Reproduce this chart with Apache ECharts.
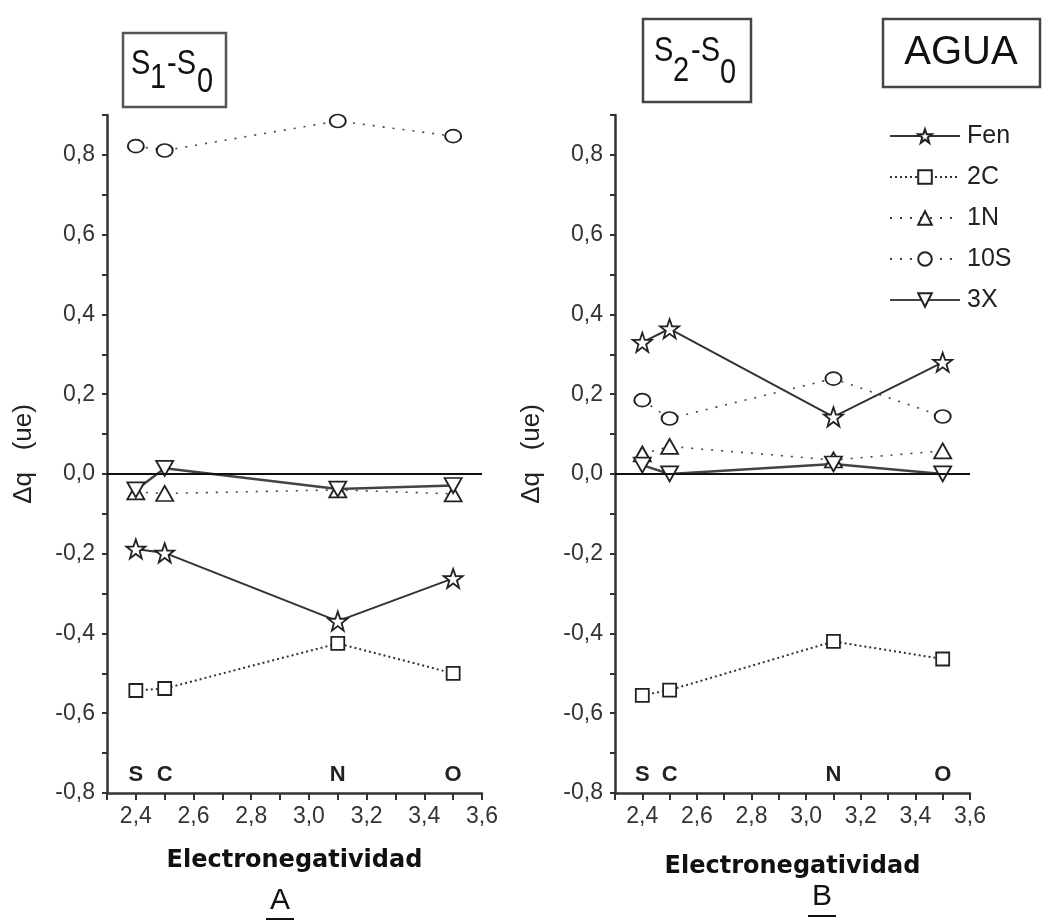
<!DOCTYPE html>
<html><head><meta charset="utf-8">
<script src="https://cdn.jsdelivr.net/npm/echarts@6/dist/echarts.min.js"></script>
<style>html,body{margin:0;padding:0;background:#fff}#c{width:1053px;height:923px}</style>
</head><body><div id="c"></div><script>
// ---- data ----
const xVals = [2.4, 2.5, 3.1, 3.5];
const elementLabels = ['S', 'C', 'N', 'O'];
const elementLabelY = -0.755;
const seriesNames = ['Fen', '2C', '1N', '10S', '3X'];
// Panel A: S1-S0
const fenA = [-0.188, -0.198, -0.369, -0.262];
const c2A  = [-0.543, -0.538, -0.425, -0.50];
const n1A  = [-0.045, -0.049, -0.04, -0.05];
const s10A = [0.822, 0.811, 0.885, 0.847];
const x3A  = [-0.04, 0.014, -0.038, -0.029];
// Panel B: S2-S0
const fenB = [0.33, 0.364, 0.143, 0.28];
const c2B  = [-0.555, -0.542, -0.42, -0.464];
const n1B  = [0.05, 0.069, 0.035, 0.058];
const s10B = [0.185, 0.139, 0.239, 0.144];
const x3B  = [0.022, 0.0, 0.025, 0.0];

// ---- styles ----
const FONT = 'Liberation Sans';
const STAR = 'path://M12,0 L14.9,8.1 L23.4,8.1 L16.6,13.2 L19.1,21.6 L12,16.5 L4.9,21.6 L7.4,13.2 L0.6,8.1 L9.1,8.1 Z';
const DOWN = 'path://M0,0 L20,0 L10,18 Z';
const UP = 'path://M10,0 L20,18 L0,18 Z';
const styleMap = {
  'Fen': {symbol: STAR, size: 19, line: {type: 'solid', width: 2, color: '#333'}},
  '2C':  {symbol: 'rect', size: 13, line: {type: [2, 3], width: 2, color: '#333'}},
  '1N':  {symbol: UP, size: [17, 15], line: {type: [2, 8], width: 1.6, color: '#444'}},
  '10S': {symbol: 'circle', size: [16, 13], line: {type: [2, 8], width: 1.6, color: '#444'}},
  '3X':  {symbol: DOWN, size: [17, 15], line: {type: 'solid', width: 2.5, color: '#444'}}
};

function mk(name, vals, gi) {
  const st = styleMap[name];
  return {
    name: name, type: 'line', xAxisIndex: gi, yAxisIndex: gi,
    data: xVals.map((x, i) => [x, vals[i]]),
    symbol: st.symbol, symbolSize: st.size, symbolKeepAspect: false,
    showAllSymbol: true,
    lineStyle: st.line,
    itemStyle: {color: '#fff', borderColor: '#222', borderWidth: 1.8},
    z: 3, animation: false
  };
}

const series = [];
[[fenA, c2A, n1A, s10A, x3A], [fenB, c2B, n1B, s10B, x3B]].forEach((arrs, gi) => {
  arrs.forEach((vals, k) => series.push(mk(seriesNames[k], vals, gi)));
  series.push({
    type: 'line', xAxisIndex: gi, yAxisIndex: gi, data: [], silent: true,
    markLine: {silent: true, symbol: 'none', label: {show: false},
      lineStyle: {type: 'solid', color: '#111', width: 2}, data: [{yAxis: 0}]},
    animation: false
  });
  series.push({
    type: 'scatter', xAxisIndex: gi, yAxisIndex: gi, silent: true,
    data: xVals.map((x, i) => [x, elementLabelY, elementLabels[i]]),
    symbolSize: 1, itemStyle: {opacity: 0},
    label: {show: true, position: 'inside', formatter: p => p.data[2],
      fontFamily: FONT, fontWeight: 'bold', fontSize: 22, color: '#222', opacity: 1},
    animation: false
  });
});

function fmt(v) {
  const k = Math.round(v * 10);
  if (k % 2 !== 0) return '';
  return (k / 10).toFixed(1).replace('.', ',');
}

function xAx(gi, gap) {
  return {
    type: 'value', gridIndex: gi, min: 2.3, max: 3.6, interval: 0.1,
    name: 'Electronegatividad', nameLocation: 'middle', nameGap: gap,
    nameTextStyle: {fontFamily: 'DejaVu Sans', fontWeight: 'bold', fontSize: 24, color: '#111'},
    axisLine: {onZero: false, lineStyle: {color: '#333', width: 2.5}},
    axisTick: {inside: false, length: 7, lineStyle: {color: '#333', width: 2}},
    axisLabel: {formatter: fmt, fontFamily: FONT, fontSize: 23, color: '#333', margin: 12,
      showMinLabel: true, showMaxLabel: true},
    splitLine: {show: false}
  };
}
function yAx(gi) {
  return {
    type: 'value', gridIndex: gi, min: -0.8, max: 0.9, interval: 0.1,
    name: 'Δq   (ue)', nameLocation: 'middle', nameGap: 70,
    nameTextStyle: {fontFamily: FONT, fontSize: 26, color: '#222'},
    axisLine: {onZero: false, lineStyle: {color: '#333', width: 2.5}},
    axisTick: {inside: false, length: 5, lineStyle: {color: '#333', width: 2}},
    axisLabel: {formatter: fmt, fontFamily: FONT, fontSize: 23, color: '#333', margin: 12},
    splitLine: {show: false}
  };
}

function t(text, x, y, size) {
  return {type: 'text', x: x, y: y, scaleY: 1.18,
    style: {text: text, fontFamily: FONT, fontSize: size, fill: '#111', verticalAlign: 'middle', align: 'left'}};
}

const graphic = [
  {type: 'rect', shape: {x: 123, y: 33, width: 103, height: 74}, style: {fill: 'none', stroke: '#555', lineWidth: 2.5}},
  t('S', 131, 65, 29), t('1', 150, 79, 29), t('-S', 167, 65, 29), t('0', 197, 83, 29),
  {type: 'rect', shape: {x: 643, y: 19, width: 108, height: 83}, style: {fill: 'none', stroke: '#444', lineWidth: 2.5}},
  t('S', 654, 52, 29), t('2', 673, 72, 29), t('-S', 691, 52, 29), t('0', 720, 74, 29),
  {type: 'rect', shape: {x: 883, y: 19, width: 157, height: 68}, style: {fill: 'none', stroke: '#444', lineWidth: 2.5}},
  {type: 'text', x: 961, y: 53, style: {text: 'AGUA', fontFamily: FONT, fontSize: 40, fill: '#111', align: 'center', verticalAlign: 'middle'}},
  {type: 'text', x: 280, y: 901, style: {text: 'A', fontFamily: FONT, fontSize: 30, fill: '#111', align: 'center', verticalAlign: 'middle'}},
  {type: 'line', shape: {x1: 266, y1: 919, x2: 294, y2: 919}, style: {stroke: '#111', lineWidth: 2}},
  {type: 'text', x: 822, y: 897, style: {text: 'B', fontFamily: FONT, fontSize: 30, fill: '#111', align: 'center', verticalAlign: 'middle'}},
  {type: 'line', shape: {x1: 808, y1: 916, x2: 836, y2: 916}, style: {stroke: '#111', lineWidth: 2}}
];

const chart = echarts.init(document.getElementById('c'), null, {renderer: 'canvas'});
chart.setOption({
  backgroundColor: '#fff',
  animation: false,
  grid: [
    {left: 107, right: 571, top: 115, bottom: 130},
    {left: 615, right: 83, top: 115, bottom: 130}
  ],
  xAxis: [xAx(0, 56), xAx(1, 62)],
  yAxis: [yAx(0), yAx(1)],
  legend: {
    data: seriesNames, orient: 'vertical', left: 884, top: 118,
    itemWidth: 70, itemHeight: 17, itemGap: 15, selectedMode: false,
    textStyle: {fontFamily: FONT, fontSize: 25, color: '#222', lineHeight: 26, padding: [0, 0, 0, 2]}
  },
  graphic: graphic,
  series: series
});
</script></body></html>
